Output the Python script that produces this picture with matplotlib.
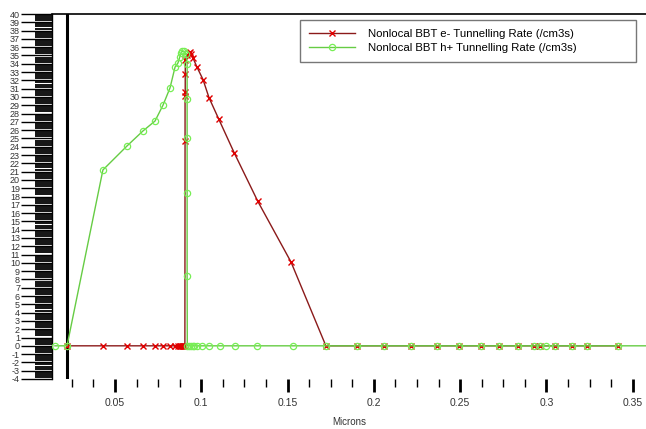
import matplotlib
matplotlib.use("Agg")
import matplotlib.pyplot as plt
from matplotlib.ticker import MultipleLocator
import numpy as np

# ---- data ----
e_x = [0.0222, 0.043, 0.057, 0.0662, 0.0732, 0.0778, 0.0819, 0.0848, 0.0865, 0.0875,
       0.0882, 0.0888, 0.0893, 0.0898, 0.0902, 0.0905,
       0.0906, 0.0906, 0.0907, 0.0907, 0.0908,
       0.0920, 0.0930, 0.0935, 0.0940, 0.0952, 0.0975, 0.101, 0.1045, 0.1102, 0.119,
       0.1328, 0.152, 0.1722,
       0.190, 0.2058, 0.2215, 0.2366, 0.2493, 0.262, 0.2725, 0.2835, 0.2928, 0.2963,
       0.305, 0.3148, 0.3234, 0.3414]
e_y = [0, 0, 0, 0, 0, 0, 0, 0, 0, 0,
       0, 0, 0, 0, 0, 0,
       24.7, 30.1, 30.6, 32.8, 34.5,
       35.0, 35.3, 35.4, 35.2, 34.7, 33.6, 32.1, 29.9, 27.3, 23.3,
       17.4, 10.1, 0,
       0, 0, 0, 0, 0, 0, 0, 0, 0, 0,
       0, 0, 0, 0]

h_x = [0.0152, 0.0222, 0.043, 0.057, 0.0662, 0.0732, 0.0778, 0.0819, 0.0848, 0.0865,
       0.0875, 0.0882, 0.0890, 0.0900, 0.0912,
       0.0918, 0.0918, 0.0918, 0.0918, 0.0918, 0.0919,
       0.0930, 0.0940, 0.0950, 0.0960, 0.0975, 0.1004, 0.1045, 0.1108, 0.1195, 0.1323,
       0.153, 0.1722, 0.190, 0.2058, 0.2215, 0.2366, 0.2493, 0.262, 0.2725, 0.2835,
       0.2928, 0.2963, 0.300, 0.305, 0.3148, 0.3234, 0.3414, 0.362]
h_y = [0, 0, 21.2, 24.1, 25.9, 27.1, 29.0, 31.1, 33.6, 34.1,
       34.8, 35.3, 35.5, 35.5, 35.2,
       34.0, 29.7, 25.1, 18.4, 8.4, 0,
       0, 0, 0, 0, 0, 0, 0, 0, 0, 0,
       0, 0, 0, 0, 0, 0, 0, 0, 0, 0,
       0, 0, 0, 0, 0, 0, 0, 0]

e_label = "Nonlocal BBT e- Tunnelling Rate (/cm3s)"
h_label = "Nonlocal BBT h+ Tunnelling Rate (/cm3s)"
x_label = "Microns"
boundary_x = 0.0222

plt.rcParams['font.family'] = ['Liberation Sans', 'DejaVu Sans']
plt.rcParams['axes.unicode_minus'] = False

W, H = 646, 429
fig = plt.figure(figsize=(W / 100, H / 100), dpi=100)
L, R, T, B = 52, 646, 14, 379
ax = fig.add_axes([L / W, 1 - B / H, (R - L) / W, (B - T) / H])

ax.plot(e_x, e_y, color='#8b1a1a', lw=1.0, marker='x', ms=5, mew=1.0,
        mec='#e00000', label=e_label, zorder=3)
ax.plot(h_x, h_y, color='#66cc44', lw=1.0, marker='o', ms=4.5, mew=0.9,
        mfc='none', mec='#77ee55', label=h_label, zorder=4)

ax.axvline(boundary_x, color='black', lw=2.2, zorder=2)

ax.set_xlim(0.0135, 0.3577)
ax.set_ylim(-4, 40)

ax.xaxis.set_minor_locator(MultipleLocator(0.0125))
ax.yaxis.set_major_locator(MultipleLocator(1))
ax.yaxis.set_minor_locator(MultipleLocator(0.25))

ax.set_xticks([0.05, 0.1, 0.15, 0.2, 0.25, 0.3, 0.35])
ax.set_xticklabels(['0.05', '0.1', '0.15', '0.2', '0.25', '0.3', '0.35'])

ax.tick_params(axis='x', which='major', direction='out', length=9, width=2,
               pad=5, labelsize=7.5, labelcolor='#333333')
ax.tick_params(axis='x', which='minor', direction='out', length=6, width=1)
ax.tick_params(axis='y', which='major', direction='out', length=22, width=1,
               pad=1, labelsize=6.5, labelcolor='#333333')
ax.tick_params(axis='y', which='minor', direction='out', length=12, width=1.3)

for s in ['bottom', 'right']:
    ax.spines[s].set_visible(False)
ax.spines['top'].set_linewidth(1.2)
ax.spines['left'].set_linewidth(1.0)

ax.set_xlabel(x_label, fontsize=7, color='#333333', labelpad=6)

x0 = (300 - L) / (R - L)
x1 = (636 - L) / (R - L)
y1 = (B - 20) / (B - T)
y0 = (B - 62) / (B - T)
leg = ax.legend(loc='upper left', bbox_to_anchor=(x0, y0, x1 - x0, y1 - y0),
                mode='expand', borderaxespad=0, fontsize=8.2, frameon=True,
                fancybox=False, edgecolor='#555555', handlelength=4.0,
                handletextpad=1.2, borderpad=0.8, labelspacing=0.35)
leg._legend_box.align = 'left'
leg.get_frame().set_linewidth(1.0)
# shift contents slightly right, like the reference
leg._legend_box.set_offset if False else None

fig.savefig('out.png', dpi=100)
